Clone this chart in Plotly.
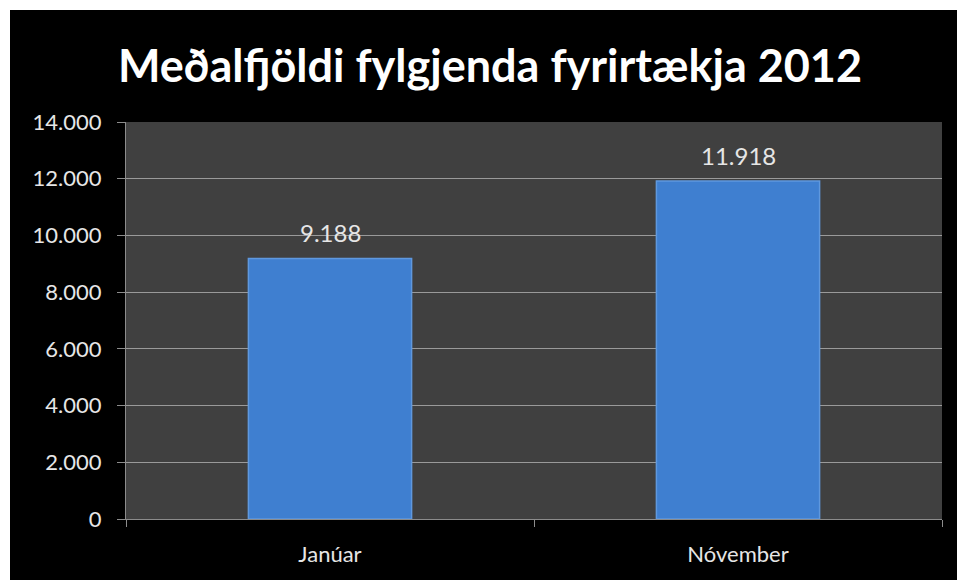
import plotly.graph_objects as go

categories = ["Janúar", "Nóvember"]
values = [9188, 11918]
tick_vals = [0, 2000, 4000, 6000, 8000, 10000, 12000, 14000]
title_text = "Meðalfjöldi fylgjenda fyrirtækja 2012"

W, H = 957, 580
L, R, T, B = 126, 15, 122, 61
pw, ph = W - L - R, H - T - B

def px_x(x):
    return (x - L) / pw

def px_y(y):
    return (H - B - y) / ph

FONT = "Lato, Open Sans, sans-serif"

fig = go.Figure()
fig.add_trace(go.Bar(
    x=categories, y=values,
    marker=dict(color="#3F7FD0", line=dict(color="#5F98DE", width=1.5)),
    width=0.4,
    hoverinfo="skip",
))

for c, v in zip(categories, values):
    fig.add_annotation(x=c, y=v, text=f"{v:,}".replace(",", "."), showarrow=False,
                       yshift=26, font=dict(family=FONT, size=24, color="#E6E6E6"))

fig.update_layout(
    width=W, height=H,
    margin=dict(l=L, r=R, t=T, b=B),
    paper_bgcolor="black",
    plot_bgcolor="#404040",
    separators=",.",
    showlegend=False,
    title=dict(text=title_text, x=490 / W, xanchor="center", y=1 - 66 / H, yanchor="middle",
               font=dict(family=FONT, size=45, color="white", weight="bold")),
    font=dict(family=FONT, color="#E6E6E6"),
    shapes=[
        dict(type="rect", xref="paper", yref="paper", x0=px_x(0), x1=px_x(10), y0=px_y(H), y1=px_y(0),
             fillcolor="white", line=dict(width=0), layer="above"),
        dict(type="rect", xref="paper", yref="paper", x0=px_x(0), x1=px_x(W), y0=px_y(10), y1=px_y(0),
             fillcolor="white", line=dict(width=0), layer="above"),
    ],
)
fig.update_yaxes(
    range=[0, 14000], tickvals=tick_vals, tickformat=",d",
    showgrid=True, gridcolor="#9A9A9A", gridwidth=1,
    showline=True, linecolor="#8C8C8C", linewidth=1,
    ticks="outside", ticklen=8, tickcolor="#8C8C8C",
    tickfont=dict(size=22, color="#E6E6E6"), ticklabelstandoff=11,
    zeroline=False,
)
fig.update_xaxes(
    showline=True, linecolor="#8C8C8C", linewidth=1,
    ticks="outside", ticklen=7, tickcolor="#8C8C8C", tickson="boundaries",
    tickfont=dict(size=22, color="#E6E6E6"), ticklabelstandoff=16,
)
fig.write_html("out.html", config={"displayModeBar": False},
               post_script="document.body.style.margin='0px';")
